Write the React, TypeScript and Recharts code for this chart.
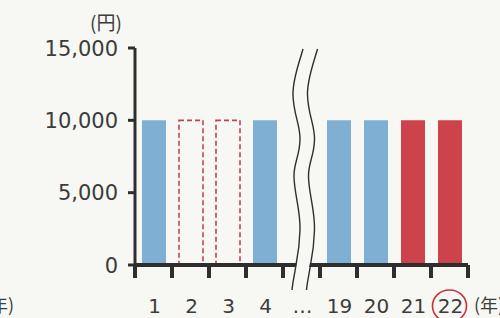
import React from 'react';
import { BarChart, Bar, XAxis, YAxis, Cell } from 'recharts';

// ---- data ----
const categories = ['1', '2', '3', '4', '…', '19', '20', '21', '22'];
const values: (number | null)[] = [10000, 10000, 10000, 10000, null, 10000, 10000, 10000, 10000];
const barKinds = ['past', 'planned', 'planned', 'past', 'break', 'past', 'past', 'recent', 'recent'];
const yTicks = [0, 5000, 10000, 15000];
const yUnit = '(円)';
const xUnit = '(年)';
const highlightedCategory = '22';
const breakCategory = '…';

const data = categories.map((c, i) => ({ year: c, fee: values[i], kind: barKinds[i] }));

// ---- layout / style ----
const W = 500;
const H = 318;
const MARGIN = { top: 48, right: 32, left: 0, bottom: 0 };
const Y_AXIS_W = 135;
const X_AXIS_H = 53;
const BAND = (W - MARGIN.right - Y_AXIS_W) / categories.length;
const INK = '#2e2e2e';
const TEXT = '#3c3c3c';
const BLUE = '#7fb0d4';
const RED = '#cc434c';
const DASH_RED = '#c4414d';
const BG = '#f7f7f4';
const FONT = '"DejaVu Sans", Verdana, sans-serif';
const CJK = '"Noto Sans CJK JP", "DejaVu Sans", sans-serif';

const fmt = (v: number) => v.toLocaleString('en-US');

const waveLeft =
  'M 1.5 -216 C -3 -200, -9 -185, -8.5 -170 C -8 -150, -1 -140, -1.5 -125 C -2 -108, -8 -102, -7.5 -88 C -7 -70, -1 -55, -1.5 -35 C -2 -18, -4 -8, -5.5 0 C -7 10, -9 18, -9.5 25';

const YTick = (props: any) => {
  const { x, y, payload } = props;
  const isTop = payload.value === yTicks[yTicks.length - 1];
  return (
    <g>
      <text x={x} y={y} dy="0.36em" textAnchor="end" fontSize={21} fill={TEXT} fontFamily={FONT}>
        {fmt(payload.value)}
      </text>
      {isTop && (
        <text x={x - 12} y={y - 18} textAnchor="middle" fontSize={19} fill={TEXT} fontFamily={CJK}>
          {yUnit}
        </text>
      )}
    </g>
  );
};

const XTick = (props: any) => {
  const { x, y, payload, index } = props;
  const label = payload.value;
  const left = x - BAND / 2;
  const right = x + BAND / 2;
  const isFirst = index === 0;
  const isLast = index === categories.length - 1;
  return (
    <g>
      <line x1={left} x2={left} y1={y} y2={y + 13} stroke={INK} strokeWidth={4} />
      {isLast && <line x1={right} x2={right} y1={y} y2={y + 13} stroke={INK} strokeWidth={4} />}
      {label === breakCategory && (
        <g transform={`translate(${x},${y})`}>
          <path d={waveLeft} transform="translate(7,0)" fill="none" stroke={BG} strokeWidth={13} />
          <path d={waveLeft} fill="none" stroke={INK} strokeWidth={1.4} />
          <path d={waveLeft} transform="translate(14.5,0)" fill="none" stroke={INK} strokeWidth={1.4} />
        </g>
      )}
      <text x={x + 1} y={y + 48} textAnchor="middle" fontSize={20} fill={TEXT} fontFamily={FONT}>
        {label}
      </text>
      {label === highlightedCategory && (
        <ellipse cx={x} cy={y + 41} rx={17} ry={16} fill="none" stroke="#c8323c" strokeWidth={1.6} />
      )}
      {isLast && (
        <text x={right + 6} y={y + 47} textAnchor="start" fontSize={18} fill={TEXT} fontFamily={CJK}>
          {xUnit}
        </text>
      )}
      {isFirst && (
        <text x={14} y={y + 47} textAnchor="end" fontSize={18} fill={TEXT} fontFamily={CJK}>
          {xUnit}
        </text>
      )}
    </g>
  );
};

const styleFor = (kind: string) => {
  if (kind === 'planned') return { fill: 'none', stroke: DASH_RED, strokeWidth: 1.6, strokeDasharray: '5 3' };
  if (kind === 'recent') return { fill: RED, stroke: 'none' };
  if (kind === 'past') return { fill: BLUE, stroke: 'none' };
  return { fill: 'none', stroke: 'none' };
};

export default function App() {
  return (
    <div style={{ position: 'absolute', left: 0, top: 0, width: W, height: H, background: BG }}>
      <BarChart width={W} height={H} data={data} margin={MARGIN}>
        <XAxis
          dataKey="year"
          height={X_AXIS_H}
          interval={0}
          tickLine={false}
          tickSize={0}
          tickMargin={0}
          axisLine={{ stroke: INK, strokeWidth: 4 }}
          tick={<XTick />}
        />
        <YAxis
          width={Y_AXIS_W}
          domain={[0, 15000]}
          ticks={yTicks}
          interval={0}
          tickSize={7}
          tickMargin={10}
          axisLine={{ stroke: INK, strokeWidth: 3 }}
          tickLine={{ stroke: INK, strokeWidth: 3 }}
          tick={<YTick />}
        />
        <Bar dataKey="fee" barSize={24} isAnimationActive={false}>
          {data.map((d, i) => {
            const s = styleFor(d.kind);
            return (
              <Cell
                key={i}
                fill={s.fill}
                stroke={s.stroke}
                strokeWidth={(s as any).strokeWidth}
                strokeDasharray={(s as any).strokeDasharray}
              />
            );
          })}
        </Bar>
      </BarChart>
    </div>
  );
}
